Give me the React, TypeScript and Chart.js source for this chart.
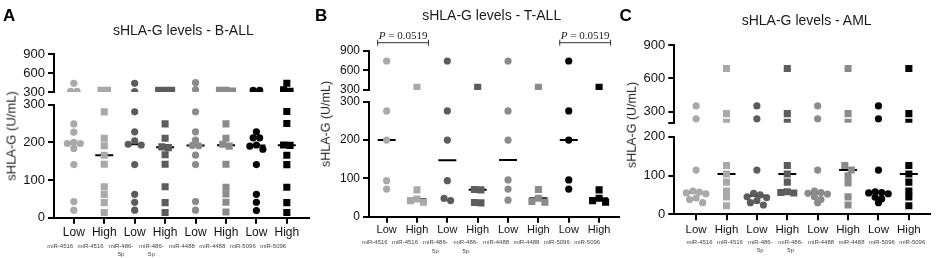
import React, { useEffect, useRef } from 'react';
import { Chart, registerables } from 'chart.js';

Chart.register(...registerables);

const FONT = "'Liberation Sans', Arial, Helvetica, sans-serif";
const SERIF = "'Liberation Serif', 'Times New Roman', serif";

// ---- categories / tick labels ----
const GROUP_LABELS = ['Low', 'High', 'Low', 'High', 'Low', 'High', 'Low', 'High'];
const MIRNA_LABELS = [
  ['miR-4516'], ['miR-4516'], ['miR-486-', '5p'], ['miR-486-', '5p'],
  ['miR-4488'], ['miR-4488'], ['miR-5096'], ['miR-5096'],
];
const COLUMN_COLORS = ['#a9a9a9', '#a9a9a9', '#5c5c5c', '#5c5c5c', '#8b8b8b', '#8b8b8b', '#000000', '#000000'];
const COLUMN_SHAPES = ['circle', 'rect', 'circle', 'rect', 'circle', 'rect', 'circle', 'rect'];

const TICKS_LOWER_AB = [0, 100, 200, 300];
const TICKS_UPPER_AB = [300, 600, 900];
const TICKS_LOWER_C = [0, 100, 200];
const TICKS_UPPER_C = [200, 300, 600, 900];

// ---- data: sHLA-G (U/mL), one list per column ----
const B_ALL_LOW_4516 = [438, 311, 311, 249, 227, 200, 197, 197, 184, 141, 43, 20];
const B_ALL_HIGH_4516 = [327, 327, 281, 211, 191, 166, 142, 82, 62, 40, 14];
const B_ALL_LOW_486 = [438, 305, 281, 228, 204, 195, 193, 141, 62, 41, 20];
const B_ALL_HIGH_486 = [327, 327, 327, 249, 211, 188, 186, 167, 142, 82, 40, 14];
const B_ALL_LOW_4488 = [448, 340, 281, 228, 206, 192, 191, 166, 141, 43, 20];
const B_ALL_HIGH_4488 = [327, 327, 315, 249, 211, 195, 190, 142, 81, 63, 41, 15];
const B_ALL_LOW_5096 = [327, 327, 228, 212, 212, 193, 190, 182, 141, 62, 41, 19];
const B_ALL_HIGH_5096 = [438, 335, 310, 282, 250, 193, 192, 166, 141, 81, 40, 14];

const T_ALL_LOW_4516 = [743, 276, 200, 94, 72];
const T_ALL_HIGH_4516 = [340, 70, 46, 42, 38];
const T_ALL_LOW_486 = [743, 276, 200, 94, 48, 42];
const T_ALL_HIGH_486 = [340, 71, 70, 37, 36];
const T_ALL_LOW_4488 = [743, 276, 200, 96, 72, 43];
const T_ALL_HIGH_4488 = [340, 71, 48, 40, 38];
const T_ALL_LOW_5096 = [743, 276, 200, 96, 72];
const T_ALL_HIGH_5096 = [340, 70, 48, 42, 38];

const AML_LOW_4516 = [351, 235, 114, 60, 57, 55, 53, 42, 38, 30];
const AML_HIGH_4516 = [688, 282, 204, 126, 104, 83, 60, 45, 22];
const AML_LOW_486 = [351, 235, 114, 54, 50, 45, 43, 35, 30, 24];
const AML_HIGH_486 = [688, 282, 204, 126, 104, 83, 58, 56, 55];
const AML_LOW_4488 = [351, 235, 114, 60, 56, 54, 52, 45, 38, 30];
const AML_HIGH_4488 = [688, 282, 204, 126, 114, 99, 81, 45, 24];
const AML_LOW_5096 = [351, 235, 114, 58, 56, 55, 53, 44, 40, 30];
const AML_HIGH_5096 = [688, 282, 204, 126, 104, 83, 60, 45, 22];

const P_VALUE_TEXT = ' = 0.0519';
const T_ALL_BRACKETS = [[0, 1], [6, 7]];

// ---- panels (layout) ----
const PANELS: any[] = [
  {
    key: 'A', letter: 'A', title: 'sHLA-G levels - B-ALL',
    values: [B_ALL_LOW_4516, B_ALL_HIGH_4516, B_ALL_LOW_486, B_ALL_HIGH_486, B_ALL_LOW_4488, B_ALL_HIGH_4488, B_ALL_LOW_5096, B_ALL_HIGH_5096],
    breakAt: 300, lowerTicks: TICKS_LOWER_AB, upperTicks: TICKS_UPPER_AB, hiddenUpperTick: null,
    canvasLeft: 0, canvasWidth: 320,
    area: { left: 54, right: 315, top: 54.3, bottom: 217.7 },
    seg: [37.7, 12.7, 113],
    xMin: -0.652, xMax: 7.729, subShift: -14,
    labelPad: 1.8, subPad: -6, yFont: 13, xFont: 12,
    letterX: 3, letterY: 15, titleX: 183.3, titleY: 29.7,
    yTitleX: 11, yTitleY: 136, yTitleSize: 13, brackets: [],
  },
  {
    key: 'B', letter: 'B', title: 'sHLA-G levels - T-ALL',
    values: [T_ALL_LOW_4516, T_ALL_HIGH_4516, T_ALL_LOW_486, T_ALL_HIGH_486, T_ALL_LOW_4488, T_ALL_HIGH_4488, T_ALL_LOW_5096, T_ALL_HIGH_5096],
    breakAt: 300, lowerTicks: TICKS_LOWER_AB, upperTicks: TICKS_UPPER_AB, hiddenUpperTick: null,
    canvasLeft: 310, canvasWidth: 320,
    area: { left: 369, right: 620, top: 50.7, bottom: 216.7 },
    seg: [39.3, 11.7, 115],
    xMin: -0.581, xMax: 7.656, subShift: -12,
    labelPad: 1.1, subPad: -8.5, yFont: 12, xFont: 11,
    letterX: 315, letterY: 15, titleX: 491.7, titleY: 15,
    yTitleX: 326, yTitleY: 124, yTitleSize: 12.5, brackets: T_ALL_BRACKETS,
  },
  {
    key: 'C', letter: 'C', title: 'sHLA-G levels - AML',
    values: [AML_LOW_4516, AML_HIGH_4516, AML_LOW_486, AML_HIGH_486, AML_LOW_4488, AML_HIGH_4488, AML_LOW_5096, AML_HIGH_5096],
    breakAt: 200, lowerTicks: TICKS_LOWER_C, upperTicks: TICKS_UPPER_C, hiddenUpperTick: 200,
    canvasLeft: 620, canvasWidth: 321,
    area: { left: 674.3, right: 936.7, top: 45, bottom: 214.3 },
    seg: [77.7, 14, 77.6],
    xMin: -0.718, xMax: 7.696, subShift: 3.5,
    labelPad: 2.5, subPad: -6.8, yFont: 13, xFont: 11.5,
    letterX: 619.5, letterY: 15, titleX: 806.7, titleY: 20,
    yTitleX: 631.7, yTitleY: 125, yTitleSize: 12.5, brackets: [],
  },
];

const CANVAS_H = 258;
const Y_W = 40;
const X_H = 22;
const SUB_H = 18;
const STEP = 6.5; // horizontal spacing between neighbouring dots (px)
const ROW_GAP = 5; // dots closer than this vertically share a row (px)

function median(a: number[]) {
  const s = [...a].sort((x, y) => x - y);
  const n = s.length;
  return n % 2 ? s[(n - 1) / 2] : (s[n / 2 - 1] + s[n / 2]) / 2;
}

function slotOf(k: number, n: number) {
  if (n % 2 === 1) {
    if (k === 0) return 0;
    return k % 2 === 1 ? -(k + 1) / 2 : k / 2;
  }
  return k % 2 === 0 ? -(k / 2 + 0.5) : (k - 1) / 2 + 0.5;
}

function applySwarm(chart: any, meta: any[]) {
  const xs = chart.scales.x;
  const spacing = xs.getPixelForValue(1) - xs.getPixelForValue(0);
  chart.data.datasets.forEach((ds: any, i: number) => {
    const m = meta[i];
    if (!m) return;
    const scale = chart.scales[ds.yAxisID];
    const pts = ds.data.map((p: any, j: number) => ({ j, py: scale.getPixelForValue(p.y) }));
    pts.sort((a: any, b: any) => a.py - b.py);
    const rows: any[][] = [];
    for (const p of pts) {
      const r = rows[rows.length - 1];
      if (r && p.py - r[0].py < ROW_GAP) r.push(p);
      else rows.push([p]);
    }
    rows.forEach((r) => {
      r.forEach((p, k) => {
        ds.data[p.j].x = m.g + (slotOf(k, r.length) * STEP) / spacing;
      });
    });
  });
  chart.update('none');
}

function buildConfig(p: any) {
  const datasets: any[] = [];
  const meta: any[] = [];
  p.values.forEach((vals: number[], g: number) => {
    const lower = vals.filter((v) => v <= p.breakAt);
    const upper = vals.filter((v) => v > p.breakAt);
    const parts: any[] = [['yLow', lower], ['yHigh', upper]];
    parts.forEach(([axis, arr]) => {
      if (!arr.length) return;
      datasets.push({
        data: arr.map((v: number) => ({ x: g, y: v })),
        xAxisID: 'x',
        yAxisID: axis,
        pointStyle: COLUMN_SHAPES[g],
        pointRadius: COLUMN_SHAPES[g] === 'rect' ? 5 : 3.6,
        pointHoverRadius: COLUMN_SHAPES[g] === 'rect' ? 5 : 3.6,
        backgroundColor: COLUMN_COLORS[g],
        borderColor: COLUMN_COLORS[g],
        borderWidth: 0,
        showLine: false,
      });
      meta.push({ g });
    });
  });
  datasets.push({
    data: p.values.map((v: number[], g: number) => ({ x: g, y: median(v) })),
    xAxisID: 'x',
    yAxisID: 'yLow',
    pointStyle: 'line',
    pointRadius: 9,
    pointHoverRadius: 9,
    borderColor: '#000',
    backgroundColor: '#000',
    borderWidth: 2,
    showLine: false,
  });
  meta.push(null);

  const tickGrid = {
    display: true, drawOnChartArea: false, drawTicks: true, tickLength: 6,
    color: '#000', lineWidth: 2,
  };
  const border = { display: true, color: '#000', width: 2 };
  const cats = GROUP_LABELS.map((_, i) => i);
  const spacing = (p.area.right - p.area.left) / (p.xMax - p.xMin);
  const subMin = p.xMin - p.subShift / spacing;
  const subMax = p.xMax - p.subShift / spacing;

  const bracketPlugin = {
    id: 'pBrackets' + p.key,
    afterDraw(chart: any) {
      if (!p.brackets.length) return;
      const ctx = chart.ctx;
      const xs = chart.scales.x;
      const y = chart.chartArea.top - 8;
      ctx.save();
      ctx.strokeStyle = '#333';
      ctx.fillStyle = '#222';
      ctx.lineWidth = 1;
      p.brackets.forEach(([a, b]: number[]) => {
        const x0 = xs.getPixelForValue(a) - 9.5;
        const x1 = xs.getPixelForValue(b) + 12;
        ctx.beginPath();
        ctx.moveTo(x0, y); ctx.lineTo(x1, y);
        ctx.moveTo(x0 + 0.5, y - 3); ctx.lineTo(x0 + 0.5, y + 3);
        ctx.moveTo(x1 - 0.5, y - 3); ctx.lineTo(x1 - 0.5, y + 3);
        ctx.stroke();
        ctx.textBaseline = 'alphabetic';
        ctx.font = 'italic 11px ' + SERIF;
        const wP = ctx.measureText('P').width;
        ctx.font = '11px ' + SERIF;
        const wR = ctx.measureText(P_VALUE_TEXT).width;
        const start = (x0 + x1) / 2 - (wP + wR) / 2;
        ctx.textAlign = 'left';
        ctx.font = 'italic 11px ' + SERIF;
        ctx.fillText('P', start, y - 4);
        ctx.font = '11px ' + SERIF;
        ctx.fillText(P_VALUE_TEXT, start + wP, y - 4);
      });
      ctx.restore();
    },
  };

  const yTicks = (size: number, cb: any) => ({
    callback: cb, autoSkip: false, font: { family: FONT, size }, color: '#111', padding: 3,
  });

  const config: any = {
    type: 'scatter',
    data: { datasets },
    options: {
      responsive: false,
      animation: false,
      devicePixelRatio: 1,
      events: [],
      layout: {
        padding: {
          left: p.area.left - p.canvasLeft - Y_W,
          right: p.canvasLeft + p.canvasWidth - p.area.right,
          top: p.area.top,
          bottom: CANVAS_H - p.area.bottom - X_H - SUB_H,
        },
      },
      plugins: { legend: { display: false }, tooltip: { enabled: false }, title: { display: false } },
      scales: {
        x: {
          type: 'linear', position: 'bottom', min: p.xMin, max: p.xMax,
          afterBuildTicks: (s: any) => { s.ticks = cats.map((v) => ({ value: v })); },
          afterFit: (s: any) => { s.height = X_H; },
          ticks: {
            callback: (v: number) => GROUP_LABELS[v] ?? '',
            autoSkip: false, maxRotation: 0, minRotation: 0,
            font: { family: FONT, size: p.xFont }, color: '#111', padding: p.labelPad,
          },
          grid: tickGrid, border,
        },
        xSub: {
          type: 'linear', position: 'bottom', min: subMin, max: subMax,
          afterBuildTicks: (s: any) => { s.ticks = cats.map((v) => ({ value: v })); },
          afterFit: (s: any) => { s.height = SUB_H; },
          ticks: {
            callback: (v: number) => MIRNA_LABELS[v] ?? '',
            autoSkip: false, maxRotation: 0, minRotation: 0,
            font: { family: FONT, size: 6, lineHeight: 1.45 }, color: '#444', padding: p.subPad,
          },
          grid: { display: false }, border: { display: false },
        },
        yLow: {
          type: 'linear', position: 'left', stack: 'yb', stackWeight: p.seg[2],
          min: 0, max: p.breakAt,
          afterBuildTicks: (s: any) => { s.ticks = p.lowerTicks.map((v: number) => ({ value: v })); },
          afterFit: (s: any) => { s.width = Y_W; },
          ticks: yTicks(p.yFont, (v: number) => String(v)),
          grid: tickGrid, border,
        },
        yGap: {
          type: 'linear', position: 'left', stack: 'yb', stackWeight: p.seg[1],
          min: 0, max: 1, display: false,
        },
        yHigh: {
          type: 'linear', position: 'left', stack: 'yb', stackWeight: p.seg[0],
          min: p.breakAt, max: 900,
          afterBuildTicks: (s: any) => { s.ticks = p.upperTicks.map((v: number) => ({ value: v })); },
          afterFit: (s: any) => { s.width = Y_W; },
          ticks: yTicks(p.yFont, (v: number) => (v === p.hiddenUpperTick ? '' : String(v))),
          grid: tickGrid, border,
        },
      },
    },
    plugins: [bracketPlugin],
  };
  return { config, meta };
}

function PanelChart({ p }: { p: any }) {
  const ref = useRef<HTMLCanvasElement | null>(null);
  useEffect(() => {
    if (!ref.current) return;
    const { config, meta } = buildConfig(p);
    const chart = new Chart(ref.current, config);
    applySwarm(chart, meta);
    return () => chart.destroy();
  }, [p]);
  return (
    <canvas
      ref={ref}
      width={p.canvasWidth}
      height={CANVAS_H}
      style={{ position: 'absolute', left: p.canvasLeft, top: 0, width: p.canvasWidth, height: CANVAS_H }}
    />
  );
}

export default function App() {
  return (
    <div style={{ position: 'absolute', left: 0, top: 0, width: 941, height: 258, background: '#fff', overflow: 'hidden', fontFamily: FONT, color: '#1a1a1a' }}>
      {PANELS.map((p) => (
        <PanelChart key={p.key} p={p} />
      ))}
      {PANELS.map((p) => (
        <React.Fragment key={'t' + p.key}>
          <div style={{ position: 'absolute', left: p.letterX, top: p.letterY - 8.5, fontSize: 17, lineHeight: '17px', fontWeight: 700, color: '#000' }}>
            {p.letter}
          </div>
          <div style={{ position: 'absolute', left: p.titleX, top: p.titleY - 7, fontSize: 14, lineHeight: '14px', transform: 'translateX(-50%)', whiteSpace: 'nowrap' }}>
            {p.title}
          </div>
          <div style={{ position: 'absolute', left: p.yTitleX, top: p.yTitleY, fontSize: p.yTitleSize, lineHeight: '1', transform: 'translate(-50%, -50%) rotate(-90deg)', whiteSpace: 'nowrap' }}>
            sHLA-G (U/mL)
          </div>
        </React.Fragment>
      ))}
    </div>
  );
}
